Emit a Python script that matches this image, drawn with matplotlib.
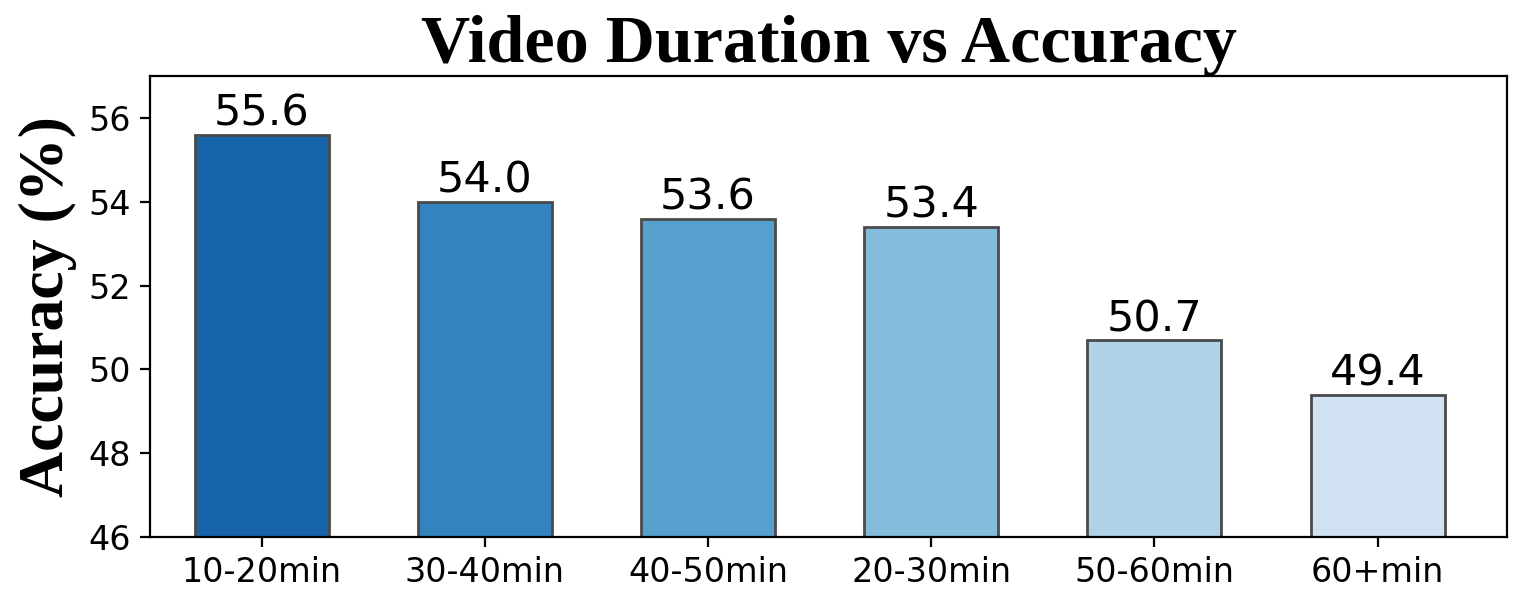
import numpy as np
import matplotlib.pyplot as plt

# Accuracy per video duration bucket
durations = ["10-20min", "30-40min", "40-50min", "20-30min", "50-60min", "60+min"]
accuracy = [55.6, 54.0, 53.6, 53.4, 50.7, 49.4]

# Shades of blue, darkest for the highest accuracy
colors = plt.cm.Blues(np.linspace(0.8, 0.2, len(durations)))

fig = plt.figure(figsize=(7.615, 2.995), dpi=200)
ax = fig.add_axes([0.0985, 0.1035, 0.891, 0.7695])

x_pos = np.arange(len(durations))
bars = ax.bar(x_pos, accuracy, width=0.6, color=colors, edgecolor="#4a4a4a", linewidth=1.0)

for b, v in zip(bars, accuracy):
    ax.text(b.get_x() + b.get_width() / 2, v, f"{v:.1f}", ha="center", va="bottom", fontsize=15.5)

ax.set_xticks(x_pos)
ax.set_xticklabels(durations, fontsize=12)
ax.tick_params(axis="y", labelsize=12)
ax.set_xlim(-0.5, 5.58)
ax.set_ylim(46, 57)
ax.set_yticks([46, 48, 50, 52, 54, 56])

ax.set_ylabel("Accuracy (%)", fontsize=23, fontweight="bold", family="Liberation Serif", labelpad=4)
ax.set_title("Video Duration vs Accuracy", fontsize=24.5, fontweight="bold", family="Liberation Serif", pad=5)

fig.savefig("out.png", dpi=200)
